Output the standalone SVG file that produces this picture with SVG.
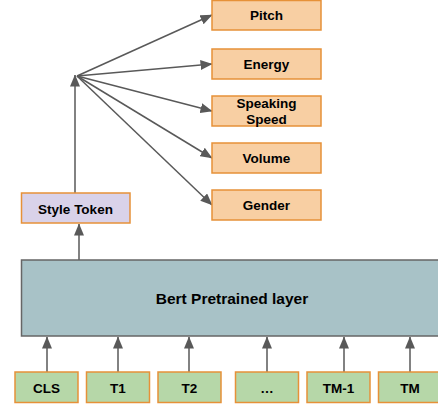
<svg xmlns="http://www.w3.org/2000/svg" width="438" height="410" viewBox="0 0 438 410">
<style>
text{font-family:"Liberation Sans",Arial,sans-serif;font-weight:bold;fill:#000;text-anchor:middle;dominant-baseline:central}
.o{fill:#f8cfa3;stroke:#e69138;stroke-width:1.5}
.g{fill:#b6d7a8;stroke:#e69138;stroke-width:1.5}
.s{fill:#d9d2e9;stroke:#e69138;stroke-width:1.5}
.b{fill:#a8c2c7;stroke:#666;stroke-width:1.5}
.c{stroke:#595959;stroke-width:1.5;fill:none;marker-end:url(#a)}
.t{font-size:13.5px}
</style>
<defs>
<marker id="a" viewBox="0 0 12 10" refX="11.5" refY="5" markerWidth="12" markerHeight="10" orient="auto" markerUnits="userSpaceOnUse">
<path d="M0,0 L12,5 L0,10 z" fill="#595959"/>
</marker>
</defs>
<rect width="438" height="410" fill="#fff"/>
<g id="connectors">
<line class="c" x1="75" y1="193" x2="75" y2="75"/>
<line class="c" x1="77" y1="76" x2="212" y2="15"/>
<line class="c" x1="77" y1="76" x2="212" y2="64"/>
<line class="c" x1="77" y1="76" x2="212" y2="111"/>
<line class="c" x1="77" y1="76" x2="212" y2="158"/>
<line class="c" x1="77" y1="76" x2="212" y2="205"/>
<line class="c" x1="79" y1="260" x2="79" y2="224"/>
<line class="c" x1="47" y1="372" x2="47" y2="337"/>
<line class="c" x1="118" y1="372" x2="118" y2="337"/>
<line class="c" x1="189" y1="372" x2="189" y2="337"/>
<line class="c" x1="267" y1="372" x2="267" y2="337"/>
<line class="c" x1="344" y1="372" x2="344" y2="337"/>
<line class="c" x1="410" y1="372" x2="410" y2="337"/>
</g>
<g id="pitch"><rect class="o" x="212" y="0.5" width="109" height="29.5"/><text class="t" x="266.5" y="15.5">Pitch</text></g>
<g id="energy"><rect class="o" x="212" y="49" width="109" height="30"/><text class="t" x="266.5" y="64.5">Energy</text></g>
<g id="speed"><rect class="o" x="212" y="96" width="109" height="30"/><text class="t" x="266.5" y="103.5">Speaking</text><text class="t" x="266.5" y="119.5">Speed</text></g>
<g id="volume"><rect class="o" x="212" y="143" width="109" height="30"/><text class="t" x="266.5" y="158.5">Volume</text></g>
<g id="gender"><rect class="o" x="212" y="190" width="109" height="30"/><text class="t" x="266.5" y="205.5">Gender</text></g>
<g id="style-token"><rect class="s" x="21.5" y="193" width="108.5" height="30"/><text class="t" x="75.5" y="209">Style Token</text></g>
<g id="bert"><rect class="b" x="21.5" y="260" width="430" height="76"/><text x="232" y="298.5" style="font-size:15.5px">Bert Pretrained layer</text></g>
<g id="cls"><rect class="g" x="15" y="372" width="63" height="30.5"/><text class="t" x="46.5" y="388">CLS</text></g>
<g id="t1"><rect class="g" x="86.5" y="372" width="63" height="30.5"/><text class="t" x="118" y="388">T1</text></g>
<g id="t2"><rect class="g" x="158" y="372" width="63" height="30.5"/><text class="t" x="189.5" y="388">T2</text></g>
<g id="dots"><rect class="g" x="235.5" y="372" width="63" height="30.5"/><text class="t" x="267" y="388">…</text></g>
<g id="tm-1"><rect class="g" x="307" y="372" width="63" height="30.5"/><text class="t" x="338.5" y="388">TM-1</text></g>
<g id="tm"><rect class="g" x="378.5" y="372" width="63" height="30.5"/><text class="t" x="410" y="388">TM</text></g>
</svg>
